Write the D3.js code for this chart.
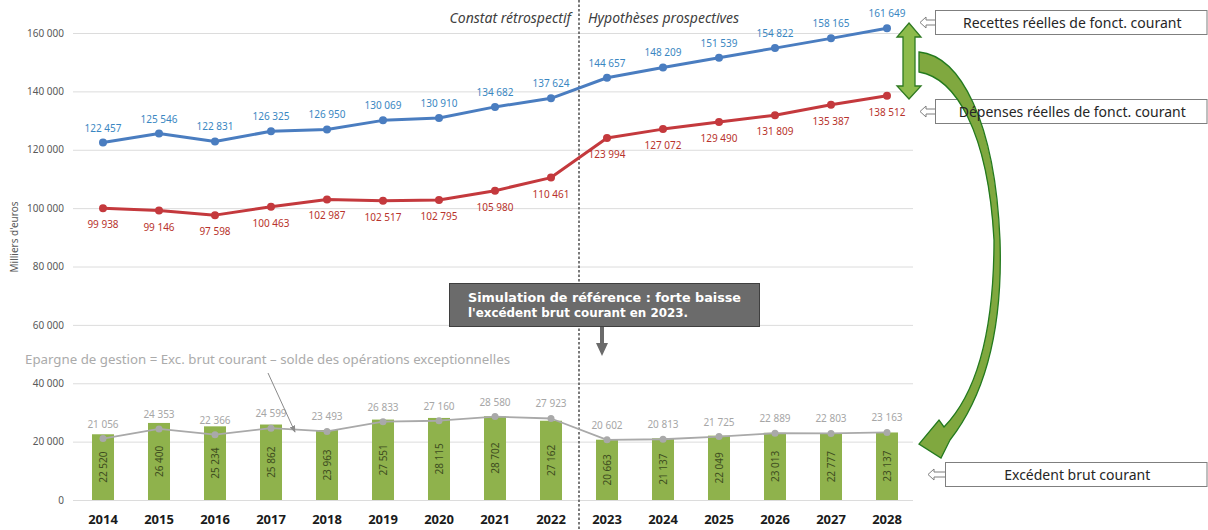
<!DOCTYPE html>
<html>
<head>
<meta charset="utf-8">
<script src="https://cdn.jsdelivr.net/npm/d3@7"></script>
<style>
  html, body { margin: 0; padding: 0; background: #fff; }
  svg { display: block; }
  text { font-family: "Noto Sans", "DejaVu Sans", sans-serif; }
</style>
</head>
<body>
<svg id="chart" width="1208" height="530"></svg>
<script>
// Years on the horizontal axis
const years = ["2014","2015","2016","2017","2018","2019","2020","2021","2022",
               "2023","2024","2025","2026","2027","2028"];
// Recettes réelles de fonctionnement courant (milliers d'euros)
const recettes = [122457,125546,122831,126325,126950,130069,130910,134682,137624,
                  144657,148209,151539,154822,158165,161649];
// Dépenses réelles de fonctionnement courant
const depenses = [99938,99146,97598,100463,102987,102517,102795,105980,110461,
                  123994,127072,129490,131809,135387,138512];
// Excédent brut courant (barres)
const excedent = [22520,26400,25234,25862,23963,27551,28115,28702,27162,
                  20663,21137,22049,23013,22777,23137];
// Epargne de gestion (ligne grise)
const epargne = [21056,24353,22366,24599,23493,26833,27160,28580,27923,
                 20602,20813,21725,22889,22803,23163];
// Graduations de l'axe vertical
const yTicks = [0,20000,40000,60000,80000,100000,120000,140000,160000];
// Dernière année du constat rétrospectif
const lastActualYear = "2022";

const fr = d3.formatLocale({decimal: ",", thousands: " ", grouping: [3], currency: ["", " €"]});
const fmt = fr.format(",d");

const svg = d3.select("#chart");

const x = d3.scaleBand().domain(years).range([75, 915]).paddingInner(0.607).paddingOuter(0.3035);
const y = d3.scaleLinear().domain([0, 160000]).range([500, 33]);
const cx = d => x(d) + x.bandwidth() / 2;

// Grille et graduations de l'axe vertical
const yAxis = svg.append("g")
  .attr("transform", "translate(73,0)")
  .call(d3.axisLeft(y).tickValues(yTicks).tickFormat(fmt).tickSize(-840).tickPadding(9));
yAxis.select(".domain").remove();
yAxis.selectAll(".tick line").attr("stroke", "#dcdcdc").attr("stroke-width", 1);
yAxis.selectAll(".tick text").attr("fill", "#595959").style("font-size", "10px")
  .style("font-family", "'Noto Sans', sans-serif");

// Titre de l'axe vertical
svg.append("text")
  .attr("transform", "translate(18,237) rotate(-90)")
  .attr("text-anchor", "middle")
  .attr("fill", "#595959")
  .style("font-size", "10px")
  .text("Milliers d'euros");

// Séparation constat / prospective
const sepX = cx(lastActualYear) + x.step() / 2;
svg.append("line")
  .attr("x1", sepX).attr("x2", sepX).attr("y1", 0).attr("y2", 530)
  .attr("stroke", "#595959").attr("stroke-width", 1.6).attr("stroke-dasharray", "2.5,2");

svg.append("text")
  .attr("x", sepX - 8).attr("y", 23)
  .attr("text-anchor", "end").attr("fill", "#404040")
  .style("font-size", "14px").style("font-style", "italic")
  .text("Constat rétrospectif");
svg.append("text")
  .attr("x", sepX + 9).attr("y", 23)
  .attr("text-anchor", "start").attr("fill", "#404040")
  .style("font-size", "14px").style("font-style", "italic")
  .text("Hypothèses prospectives");

// Barres : excédent brut courant
svg.append("g").selectAll("rect")
  .data(excedent)
  .join("rect")
  .attr("x", (d, i) => x(years[i]))
  .attr("width", x.bandwidth())
  .attr("y", d => y(d))
  .attr("height", d => y(0) - y(d))
  .attr("fill", "#8fb24c");

svg.append("g").selectAll("text")
  .data(excedent)
  .join("text")
  .attr("transform", (d, i) => `translate(${cx(years[i]) + 0.5},${(y(d) + y(0)) / 2}) rotate(-90)`)
  .attr("text-anchor", "middle")
  .attr("dy", "0.35em")
  .attr("fill", "#3e4d20")
  .style("font-size", "10px")
  .text(d => fmt(d));

// Lignes avec marqueurs et étiquettes
function series(values, lineColor, labelColor, width, r, labelDy) {
  const line = d3.line().x((d, i) => cx(years[i])).y(d => y(d));
  svg.append("path")
    .datum(values)
    .attr("d", line)
    .attr("fill", "none")
    .attr("stroke", lineColor)
    .attr("stroke-width", width)
    .attr("stroke-linejoin", "round");
  svg.append("g").selectAll("circle")
    .data(values)
    .join("circle")
    .attr("cx", (d, i) => cx(years[i]))
    .attr("cy", d => y(d))
    .attr("r", r)
    .attr("fill", lineColor);
  svg.append("g").selectAll("text")
    .data(values)
    .join("text")
    .attr("x", (d, i) => cx(years[i]))
    .attr("y", d => y(d) + labelDy)
    .attr("text-anchor", "middle")
    .attr("fill", labelColor)
    .style("font-size", "10px")
    .text(d => fmt(d));
}

series(epargne, "#a9a9a9", "#a6a6a6", 1.8, 3.5, -11);
series(recettes, "#4a7dc0", "#3a87c2", 3, 4, -11);
series(depenses, "#c4393d", "#b8332c", 3, 4, 20);

// Axe horizontal : années
const xAxis = svg.append("g")
  .attr("transform", "translate(0,500)")
  .call(d3.axisBottom(x).tickSize(0).tickPadding(15));
xAxis.select(".domain").remove();
xAxis.selectAll(".tick text")
  .attr("fill", "#1a1a1a")
  .style("font-size", "13px").style("font-weight", "bold")
  .style("font-family", "'Noto Sans', sans-serif");

// Note sur l'épargne de gestion
svg.append("text")
  .attr("x", 25).attr("y", 364)
  .attr("fill", "#ababab")
  .style("font-size", "12px")
  .attr("textLength", 485).attr("lengthAdjust", "spacingAndGlyphs")
  .text("Epargne de gestion = Exc. brut courant – solde des opérations exceptionnelles");

const defs = svg.append("defs");
defs.append("marker")
  .attr("id", "greyHead").attr("viewBox", "0 0 10 10")
  .attr("refX", 9).attr("refY", 5)
  .attr("markerWidth", 7).attr("markerHeight", 7)
  .attr("orient", "auto")
  .append("path").attr("d", "M0,1 L10,5 L0,9 Z").attr("fill", "#8a8a8a");
svg.append("line")
  .attr("x1", 268).attr("y1", 373).attr("x2", 295).attr("y2", 432)
  .attr("stroke", "#8a8a8a").attr("stroke-width", 1)
  .attr("marker-end", "url(#greyHead)");

// Encadré "Simulation de référence"
svg.append("rect")
  .attr("x", 449.5).attr("y", 283.5).attr("width", 310).attr("height", 43)
  .attr("fill", "#6b6b6b").attr("stroke", "#3f3f3f").attr("stroke-width", 1);
svg.append("text")
  .attr("x", 468).attr("y", 302)
  .attr("fill", "#ffffff")
  .style("font-family", "'DejaVu Sans', sans-serif")
  .style("font-size", "12px").style("font-weight", "bold")
  .attr("textLength", 273).attr("lengthAdjust", "spacingAndGlyphs")
  .text("Simulation de référence : forte baisse");
svg.append("text")
  .attr("x", 468).attr("y", 317)
  .attr("fill", "#ffffff")
  .style("font-family", "'DejaVu Sans', sans-serif")
  .style("font-size", "12px").style("font-weight", "bold")
  .attr("textLength", 220).attr("lengthAdjust", "spacingAndGlyphs")
  .text("l'excédent brut courant en 2023.");
svg.append("path")
  .attr("d", "M600,327 L604,327 L604,343 L608,343 L602,356 L596,343 L600,343 Z")
  .attr("fill", "#6b6b6b");

// Légendes à droite : cadres et pointeurs
const legends = [
  {bx: 935.5, by: 10.5, bw: 271.5, tipX: 920, label: "Recettes réelles de fonct. courant"},
  {bx: 935.5, by: 99.5, bw: 271.5, tipX: 920, label: "Dépenses réelles de fonct. courant"},
  {bx: 945.5, by: 462.5, bw: 261.5, tipX: 928, label: "Excédent brut courant"}
];
legends.forEach(({bx, by, bw, tipX}) => {
  const cy = by + 12;
  svg.append("rect")
    .attr("x", bx).attr("y", by).attr("width", bw).attr("height", 24)
    .attr("fill", "#fff").attr("stroke", "#7f7f7f").attr("stroke-width", 1);
  const hx = tipX + 6;
  svg.append("path")
    .attr("d", `M${tipX},${cy} L${hx},${cy - 5.5} L${hx},${cy - 2.5} L${bx},${cy - 2.5} L${bx},${cy + 2.5} L${hx},${cy + 2.5} L${hx},${cy + 5.5} Z`)
    .attr("fill", "#fff").attr("stroke", "#7f7f7f").attr("stroke-width", 1);
});

// Flèche double entre recettes et dépenses
svg.append("path")
  .attr("d", "M909,23 L921,37 L915,37 L915,86 L921,86 L909,99 L897,86 L903,86 L903,37 L897,37 Z")
  .attr("fill", "#8dbb4c").attr("stroke", "#2f7a22").attr("stroke-width", 1.3)
  .attr("stroke-linejoin", "miter");

// Flèche courbe vers l'excédent brut courant
svg.append("path")
  .attr("d", "M919,52 C960,56 995,120 1000,240 C1003,330 985,395 950,440 " +
             "L941,458 L919,444 L939,420 L944,427 " +
             "C978,392 994,330 994,240 C988,130 955,78 919,72 Z")
  .attr("fill", "#80a83f").attr("stroke", "#237a1e").attr("stroke-width", 1.3)
  .attr("stroke-linejoin", "miter");

// Libellés des légendes, au-dessus des flèches
legends.forEach(({bx, by, bw, label}) => {
  svg.append("text")
    .attr("x", bx + bw / 2 + 1).attr("y", by + 17)
    .attr("text-anchor", "middle").attr("fill", "#262626")
    .style("font-size", "14px")
    .text(label);
});
</script>
</body>
</html>
